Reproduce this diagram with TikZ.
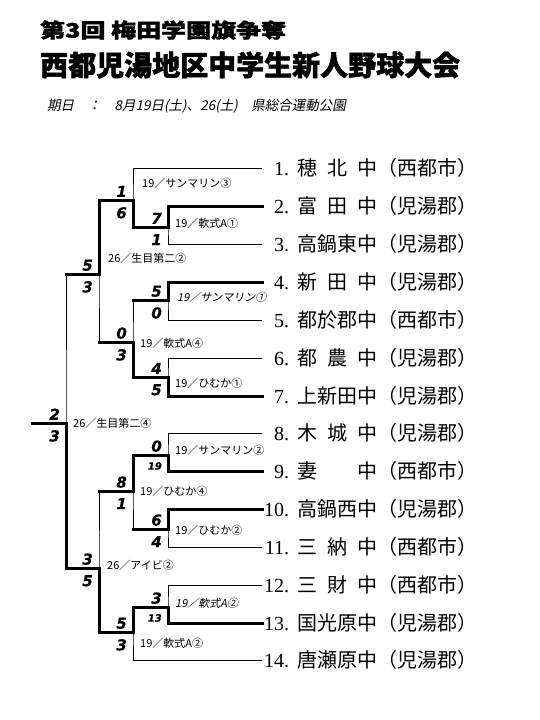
\documentclass[tikz,border=0pt]{standalone}
\usepackage{fontspec}
\usepackage{graphicx}
\newfontfamily\jp{Noto Sans CJK JP}
\newfontfamily\jpit{Noto Sans CJK JP}[FakeSlant=0.2]
\newfontfamily\jptitle{Noto Sans CJK JP}[BoldFeatures={FakeBold=1.5}]
\newfontfamily\scorefont{DejaVu Sans}[BoldItalicFeatures={FakeBold=0.6}]
\newfontfamily\numfont{Liberation Serif}
\newcommand{\tm}[3]{\makebox[27pt][r]{\numfont #1.}\hspace{8pt}\makebox[80pt][s]{#2}#3}
\tikzset{
  thinl/.style={line width=1pt},
  winl/.style={line width=3pt, line join=miter, line cap=rect},
  team/.style={anchor=west, inner sep=0pt, text height=14pt, text depth=0pt, font=\jp\fontsize{20pt}{20pt}\selectfont},
  scA/.style={anchor=south east, inner sep=0pt, font=\scorefont\bfseries\itshape\fontsize{15pt}{15pt}\selectfont},
  scB/.style={anchor=north east, inner sep=0pt, font=\scorefont\bfseries\itshape\fontsize{15pt}{15pt}\selectfont},
  scsmall/.style={font=\scorefont\bfseries\itshape\fontsize{10pt}{10pt}\selectfont},
  mlabel/.style={anchor=west, inner sep=0pt, font=\jp\fontsize{11pt}{11pt}\selectfont},
  mlabelit/.style={mlabel, font=\jpit\fontsize{11pt}{11pt}\selectfont},
}
\begin{document}
\begin{tikzpicture}[x=1pt, y=-1pt]
\useasboundingbox (0,0) rectangle (540,720);
% titles
\node[anchor=west, inner sep=0pt] (title1) at (40,30) {\scalebox{1.25}[1]{\jptitle\bfseries\fontsize{20pt}{20pt}\selectfont 第3回 梅田学園旗争奪}};
\node[anchor=west, inner sep=0pt] (title2) at (40,65) {\jptitle\bfseries\fontsize{28pt}{28pt}\selectfont 西都児湯地区中学生新人野球大会};
\node[anchor=west, inner sep=0pt] (date) at (47,106) {\jpit\fontsize{13.5pt}{13.5pt}\selectfont 期日　：　8月19日(土)、26(土)　県総合運動公園};
% teams
\node[team] (t1) at (262,168) {\tm{1}{穂\hfill 北\hfill 中}{（西都市）}};
\node[team] (t2) at (262,206) {\tm{2}{富\hfill 田\hfill 中}{（児湯郡）}};
\node[team] (t3) at (262,244) {\tm{3}{高鍋東中}{（児湯郡）}};
\node[team] (t4) at (262,282) {\tm{4}{新\hfill 田\hfill 中}{（児湯郡）}};
\node[team] (t5) at (262,320) {\tm{5}{都於郡中}{（西都市）}};
\node[team] (t6) at (262,358) {\tm{6}{都\hfill 農\hfill 中}{（児湯郡）}};
\node[team] (t7) at (262,396) {\tm{7}{上新田中}{（児湯郡）}};
\node[team] (t8) at (262,433) {\tm{8}{木\hfill 城\hfill 中}{（児湯郡）}};
\node[team] (t9) at (262,471) {\tm{9}{妻\hfill 中}{（西都市）}};
\node[team] (t10) at (262,509) {\tm{10}{高鍋西中}{（児湯郡）}};
\node[team] (t11) at (262,547) {\tm{11}{三\hfill 納\hfill 中}{（西都市）}};
\node[team] (t12) at (262,585) {\tm{12}{三\hfill 財\hfill 中}{（西都市）}};
\node[team] (t13) at (262,623) {\tm{13}{国光原中}{（児湯郡）}};
\node[team] (t14) at (262,660) {\tm{14}{唐瀬原中}{（児湯郡）}};
% match points
\coordinate (m23) at (168,227);
\coordinate (m1) at (133,200);
\coordinate (m45) at (168,300);
\coordinate (m67) at (168,377);
\coordinate (qf1) at (133,342);
\coordinate (sf1) at (99,274);
\coordinate (m89) at (168,455);
\coordinate (m1011) at (168,529);
\coordinate (qf2) at (133,491);
\coordinate (m1213) at (168,607);
\coordinate (m14) at (133,632);
\coordinate (sf2) at (99,568);
\coordinate (fin) at (66,423);
\coordinate (champ) at (32,423);
% thin bracket
\draw[thinl] (t2.west) -| (m23) |- (t3.west);
\draw[thinl] (t1.west) -| (m1) |- (m23);
\draw[thinl] (t4.west) -| (m45) |- (t5.west);
\draw[thinl] (t6.west) -| (m67) |- (t7.west);
\draw[thinl] (m45) -| (qf1) |- (m67);
\draw[thinl] (m1) -| (sf1) |- (qf1);
\draw[thinl] (t8.west) -| (m89) |- (t9.west);
\draw[thinl] (t10.west) -| (m1011) |- (t11.west);
\draw[thinl] (m89) -| (qf2) |- (m1011);
\draw[thinl] (t12.west) -| (m1213) |- (t13.west);
\draw[thinl] (m1213) -| (m14) |- (t14.west);
\draw[thinl] (qf2) -| (sf2) |- (m14);
\draw[thinl] (sf1) -| (fin) |- (sf2);
\draw[thinl] (fin) -- (champ);
% winners
\draw[winl] (t2.west) -| (m23) -| (m1) -| (sf1) -- (sf1 -| fin);
\draw[winl] (t4.west) -| (m45) -- (m45 -| qf1);
\draw[winl] (t7.west) -| (m67) -| (qf1) -- (qf1 -| sf1);
\draw[winl] (t9.west) -| (m89) -| (qf2) -- (qf2 -| sf2);
\draw[winl] (t10.west) -| (m1011) -- (m1011 -| qf2);
\draw[winl] (t13.west) -| (m1213) -| (m14) -| (sf2) -| (fin) -- (champ);
% scores
\node[scA] (s1a) at ([xshift=-6pt,yshift=3pt]m23) {7};
\node[scB] (s1b) at ([xshift=-6pt,yshift=-7pt]m23) {1};
\node[scA] (s2a) at ([xshift=-6pt,yshift=3pt]m1) {1};
\node[scB] (s2b) at ([xshift=-6pt,yshift=-7pt]m1) {6};
\node[scA] (s3a) at ([xshift=-6pt,yshift=3pt]m45) {5};
\node[scB] (s3b) at ([xshift=-6pt,yshift=-7pt]m45) {0};
\node[scA] (s4a) at ([xshift=-6pt,yshift=3pt]m67) {4};
\node[scB] (s4b) at ([xshift=-6pt,yshift=-7pt]m67) {5};
\node[scA] (s5a) at ([xshift=-6pt,yshift=3pt]qf1) {0};
\node[scB] (s5b) at ([xshift=-6pt,yshift=-7pt]qf1) {3};
\node[scA] (s6a) at ([xshift=-6pt,yshift=3pt]sf1) {5};
\node[scB] (s6b) at ([xshift=-6pt,yshift=-7pt]sf1) {3};
\node[scA] (s7a) at ([xshift=-6pt,yshift=3pt]m89) {0};
\node[scB,scsmall] (s7b) at ([xshift=-6pt,yshift=-7pt]m89) {19};
\node[scA] (s8a) at ([xshift=-6pt,yshift=3pt]m1011) {6};
\node[scB] (s8b) at ([xshift=-6pt,yshift=-7pt]m1011) {4};
\node[scA] (s9a) at ([xshift=-6pt,yshift=3pt]qf2) {8};
\node[scB] (s9b) at ([xshift=-6pt,yshift=-7pt]qf2) {1};
\node[scA] (s10a) at ([xshift=-6pt,yshift=3pt]m1213) {3};
\node[scB,scsmall] (s10b) at ([xshift=-6pt,yshift=-7pt]m1213) {13};
\node[scA] (s11a) at ([xshift=-6pt,yshift=3pt]m14) {5};
\node[scB] (s11b) at ([xshift=-6pt,yshift=-7pt]m14) {3};
\node[scA] (s12a) at ([xshift=-6pt,yshift=3pt]sf2) {3};
\node[scB] (s12b) at ([xshift=-6pt,yshift=-7pt]sf2) {5};
\node[scA] (s13a) at ([xshift=-6pt,yshift=3pt]fin) {2};
\node[scB] (s13b) at ([xshift=-6pt,yshift=-7pt]fin) {3};
% match labels
\node[mlabel] (ml1) at (142,183) {19／サンマリン③};
\node[mlabel] (ml2) at (175,223) {19／軟式A①};
\node[mlabel] (ml3) at (108,258) {26／生目第二②};
\node[mlabelit] (ml4) at (177,297) {19／サンマリン①};
\node[mlabel] (ml5) at (140,343) {19／軟式A④};
\node[mlabel] (ml6) at (175,383) {19／ひむか①};
\node[mlabel] (ml7) at (73,423) {26／生目第二④};
\node[mlabel] (ml8) at (175,450) {19／サンマリン②};
\node[mlabel] (ml9) at (140,491) {19／ひむか④};
\node[mlabel] (ml10) at (175,530) {19／ひむか②};
\node[mlabel] (ml11) at (107,565) {26／アイビ②};
\node[mlabelit] (ml12) at (175,603) {19／軟式A②};
\node[mlabel] (ml13) at (140,643) {19／軟式A②};
\end{tikzpicture}
\end{document}
